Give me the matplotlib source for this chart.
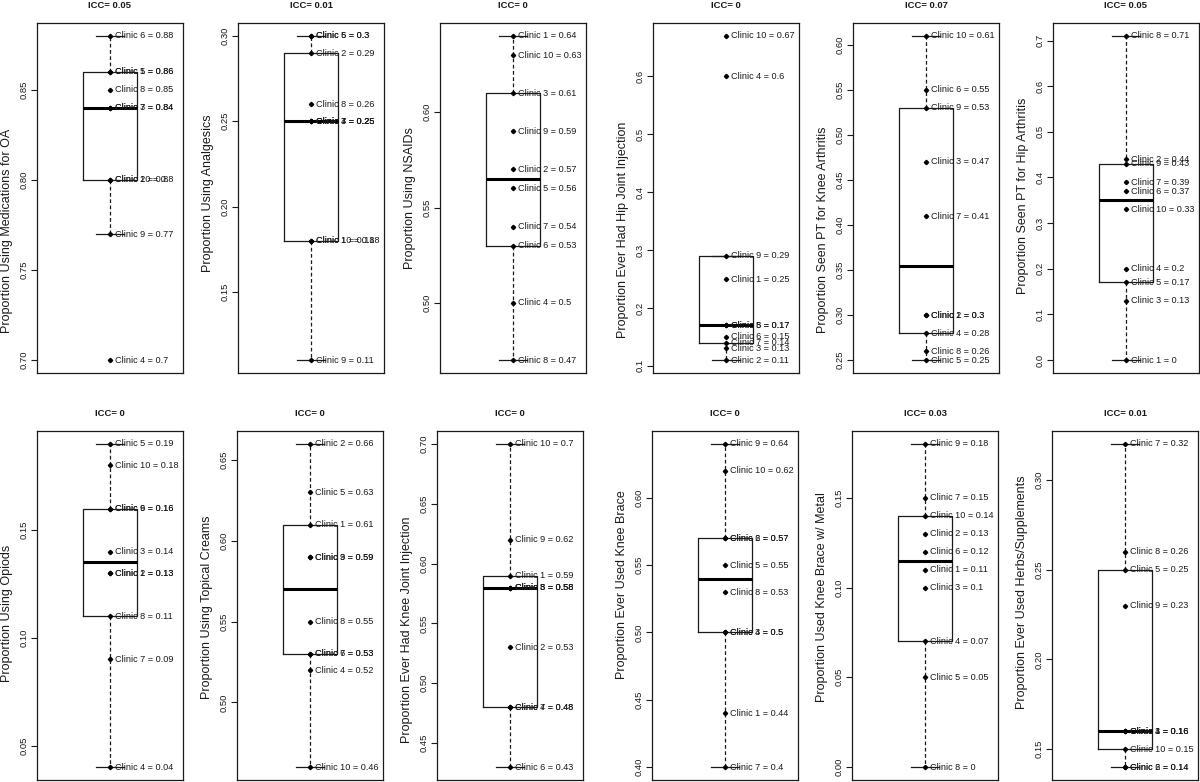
import numpy as np
import matplotlib
matplotlib.use("Agg")
import matplotlib.pyplot as plt

plt.rcParams['font.family'] = ['Liberation Sans', 'DejaVu Sans']

# one value per clinic, clinics 1..10
clinics = list(range(1, 11))

meds_oa = [0.86, 0.80, 0.84, 0.70, 0.86, 0.88, 0.84, 0.85, 0.77, 0.80]
analgesics = [0.18, 0.29, 0.25, 0.25, 0.30, 0.30, 0.25, 0.26, 0.11, 0.18]
nsaids = [0.64, 0.57, 0.61, 0.50, 0.56, 0.53, 0.54, 0.47, 0.59, 0.63]
hip_injection = [0.25, 0.11, 0.13, 0.60, 0.17, 0.15, 0.14, 0.17, 0.29, 0.67]
pt_knee = [0.30, 0.30, 0.47, 0.28, 0.25, 0.55, 0.41, 0.26, 0.53, 0.61]
pt_hip = [0.00, 0.44, 0.13, 0.20, 0.17, 0.37, 0.39, 0.71, 0.43, 0.33]
opiods = [0.13, 0.13, 0.14, 0.04, 0.19, 0.16, 0.09, 0.11, 0.16, 0.18]
topical = [0.61, 0.66, 0.59, 0.52, 0.63, 0.53, 0.53, 0.55, 0.59, 0.46]
knee_injection = [0.59, 0.53, 0.58, 0.48, 0.58, 0.43, 0.48, 0.58, 0.62, 0.70]
knee_brace = [0.44, 0.57, 0.50, 0.50, 0.55, 0.57, 0.40, 0.53, 0.64, 0.62]
brace_metal = [0.11, 0.13, 0.10, 0.07, 0.05, 0.12, 0.15, 0.00, 0.18, 0.14]
herbs = [0.16, 0.14, 0.16, 0.16, 0.25, 0.14, 0.32, 0.26, 0.23, 0.15]

series = [meds_oa, analgesics, nsaids, hip_injection, pt_knee, pt_hip,
          opiods, topical, knee_injection, knee_brace, brace_metal, herbs]

titles = ['ICC= 0.05', 'ICC= 0.01', 'ICC= 0', 'ICC= 0', 'ICC= 0.07', 'ICC= 0.05',
          'ICC= 0', 'ICC= 0', 'ICC= 0', 'ICC= 0', 'ICC= 0.03', 'ICC= 0.01']

ylabels = ['Proportion Using Medications for OA',
           'Proportion Using Analgesics',
           'Proportion Using NSAIDs',
           'Proportion Ever Had Hip Joint Injection',
           'Proportion Seen PT for Knee Arthritis',
           'Proportion Seen PT for Hip Arthritis',
           'Proportion Using Opiods',
           'Proportion Using Topical Creams',
           'Proportion Ever Had Knee Joint Injection',
           'Proportion Ever Used Knee Brace',
           'Proportion Used Knee Brace w/ Metal',
           'Proportion Ever Used Herbs/Supplements']

yticks = [[0.70, 0.75, 0.80, 0.85],
          [0.15, 0.20, 0.25, 0.30],
          [0.50, 0.55, 0.60],
          [0.1, 0.2, 0.3, 0.4, 0.5, 0.6],
          [0.25, 0.30, 0.35, 0.40, 0.45, 0.50, 0.55, 0.60],
          [0.0, 0.1, 0.2, 0.3, 0.4, 0.5, 0.6, 0.7],
          [0.05, 0.10, 0.15],
          [0.50, 0.55, 0.60, 0.65],
          [0.45, 0.50, 0.55, 0.60, 0.65, 0.70],
          [0.40, 0.45, 0.50, 0.55, 0.60],
          [0.00, 0.05, 0.10, 0.15],
          [0.15, 0.20, 0.25, 0.30]]

ytick_labels = [['0.70', '0.75', '0.80', '0.85'],
                ['0.15', '0.20', '0.25', '0.30'],
                ['0.50', '0.55', '0.60'],
                ['0.1', '0.2', '0.3', '0.4', '0.5', '0.6'],
                ['0.25', '0.30', '0.35', '0.40', '0.45', '0.50', '0.55', '0.60'],
                ['0.0', '0.1', '0.2', '0.3', '0.4', '0.5', '0.6', '0.7'],
                ['0.05', '0.10', '0.15'],
                ['0.50', '0.55', '0.60', '0.65'],
                ['0.45', '0.50', '0.55', '0.60', '0.65', '0.70'],
                ['0.40', '0.45', '0.50', '0.55', '0.60'],
                ['0.00', '0.05', '0.10', '0.15'],
                ['0.15', '0.20', '0.25', '0.30']]

# layout in pixels
W, H = 1200, 782
lefts_top = [37, 238, 440, 653, 853, 1053]
lefts_bot = [37, 237, 437, 652, 852, 1052]
ax_w = 146
rows = [(23, 373), (431, 780)]
# vertical centre of each y label (px from top of image)
label_mid = [231, 193, 198, 230, 230, 196,
             613, 607, 630, 585, 597, 592]

ink = '#1a1a1a'


def fivenum(x):
    # Tukey hinges as in R's boxplot
    x = np.sort(np.asarray(x, dtype=float))
    n = len(x)
    n4 = np.floor((n + 3) / 2) / 2
    d = np.array([1, n4, (n + 1) / 2, n + 1 - n4, n]) - 1
    return 0.5 * (x[np.floor(d).astype(int)] + x[np.ceil(d).astype(int)])


fig = plt.figure(figsize=(W / 100, H / 100), dpi=100)

for i, vals in enumerate(series):
    r = i // 6
    c = i % 6
    left = (lefts_top if r == 0 else lefts_bot)[c]
    top, bot = rows[r]
    ax_h = bot - top
    ax = fig.add_axes([left / W, 1 - bot / H, ax_w / W, ax_h / H])

    v = np.array(vals)
    mn, q1, med, q3, mx = fivenum(v)
    iqr = q3 - q1
    lo = v[v >= q1 - 1.5 * iqr - 1e-9].min()
    hi = v[v <= q3 + 1.5 * iqr + 1e-9].max()
    stats = [dict(med=med, q1=q1, q3=q3, whislo=lo, whishi=hi, fliers=[])]
    ax.bxp(stats, positions=[1], widths=0.375, capwidths=0.1875,
           showfliers=False, manage_ticks=False,
           boxprops=dict(color=ink, linewidth=0.9),
           whiskerprops=dict(color=ink, linewidth=0.9, linestyle=(0, (3, 2))),
           capprops=dict(color=ink, linewidth=0.9),
           medianprops=dict(color='black', linewidth=2.2))

    ax.plot(np.ones(len(v)), v, 'D', color='black', markersize=2.2, zorder=3)
    for k, val in zip(clinics, v):
        ax.text(1.035, val, 'Clinic %d = %s' % (k, format(round(val, 2), 'g')),
                fontsize=6.6, va='center', ha='left', color=ink, zorder=4)

    rng = v.max() - v.min()
    ax.set_ylim(v.min() - 0.04 * rng, v.max() + 0.04 * rng)
    ax.set_xlim(0.5, 1.5)
    ax.set_xticks([])
    ax.set_yticks(yticks[i])
    ax.set_yticklabels(ytick_labels[i], rotation=90, va='center', fontsize=6.8,
                       color=ink)
    ax.tick_params(axis='y', length=4, width=0.8, pad=2, color=ink)
    for s in ax.spines.values():
        s.set_color(ink)
        s.set_linewidth(0.9)

    ax.set_ylabel(ylabels[i], fontsize=9, color=ink)
    ax.yaxis.set_label_coords(-24 / ax_w, 1 - (label_mid[i] - top) / ax_h)
    ax.text(0.5, 1 + 17 / ax_h, titles[i], transform=ax.transAxes,
            ha='center', va='center', fontsize=6.8, fontweight='bold', color=ink)

fig.savefig('out.png', dpi=100)
